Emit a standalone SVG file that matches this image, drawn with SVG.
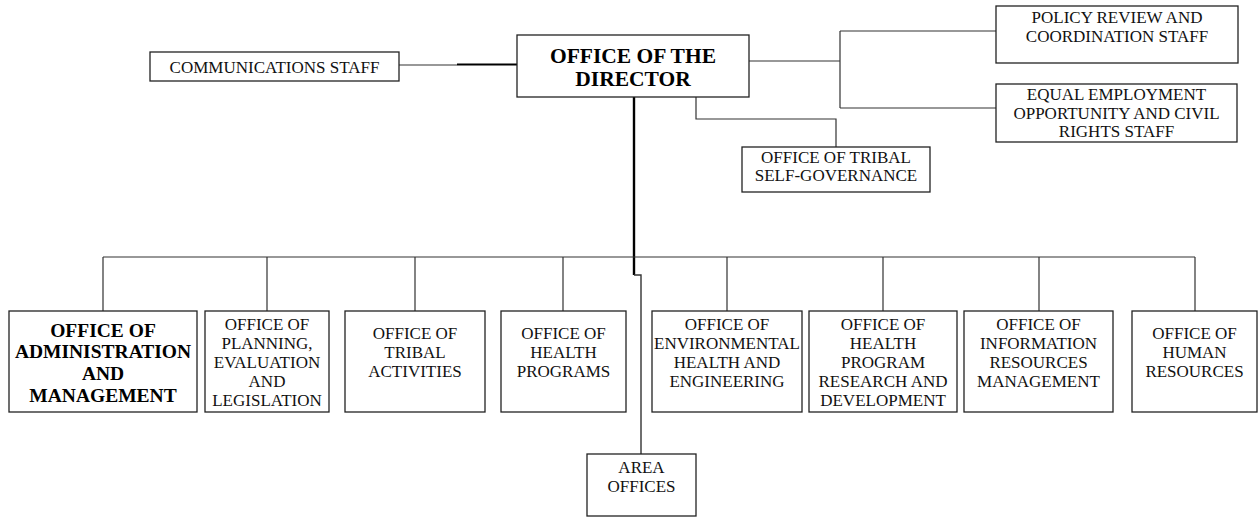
<svg xmlns="http://www.w3.org/2000/svg" width="1259" height="517" viewBox="0 0 1259 517">
<style>
.box{fill:#fff;stroke:#222;stroke-width:1.3}
.t{font-family:"Liberation Serif","Times New Roman",serif;font-size:17px;fill:#111;text-anchor:middle}
.b{font-family:"Liberation Serif","Times New Roman",serif;font-size:19.5px;font-weight:bold;fill:#000;text-anchor:middle}
.bd{font-size:21.5px}
.ln{fill:none;stroke:#333;stroke-width:1.2}
.thick{fill:none;stroke:#000;stroke-width:2.4}
</style>
<rect width="1259" height="517" fill="#fff"/>
<g id="connectors">
<path class="ln" d="M399 65 H457"/>
<path class="thick" d="M457 64.5 H517" style="stroke-width:1.8"/>
<path class="ln" d="M749 61 H840 M840 31 V108 M840 31 H996 M840 108 H996"/>
<path class="ln" d="M696 97 V119 H836 V147"/>
<path class="thick" d="M634 97 V275"/>
<path class="ln" d="M634 275 H641 V454" style="stroke-width:1.4"/>
<path class="ln" d="M103 257 H1195 M103 257 V311 M267 257 V311 M415 257 V311 M563 257 V311 M727 257 V311 M883 257 V311 M1039 257 V311 M1195 257 V311"/>
</g>
<g id="communications">
<rect class="box" x="150" y="52" width="249" height="29"/>
<text class="t" x="274.5" y="73">COMMUNICATIONS STAFF</text>
</g>
<g id="director">
<rect class="box" x="517" y="35" width="232" height="62"/>
<text class="b bd" x="633" y="63">OFFICE OF THE</text>
<text class="b bd" x="633" y="86">DIRECTOR</text>
</g>
<g id="policy">
<rect class="box" x="996" y="6" width="242" height="57"/>
<text class="t" x="1117" y="23">POLICY REVIEW AND</text>
<text class="t" x="1117" y="42">COORDINATION STAFF</text>
</g>
<g id="eeo">
<rect class="box" x="996" y="84" width="241" height="58"/>
<text class="t" x="1116.5" y="100">EQUAL EMPLOYMENT</text>
<text class="t" x="1116.5" y="119">OPPORTUNITY AND CIVIL</text>
<text class="t" x="1116.5" y="137">RIGHTS STAFF</text>
</g>
<g id="tribal-self-governance">
<rect class="box" x="742" y="147" width="188" height="45"/>
<text class="t" x="836" y="163">OFFICE OF TRIBAL</text>
<text class="t" x="836" y="181">SELF-GOVERNANCE</text>
</g>
<g id="administration">
<rect class="box" x="9" y="311" width="188" height="101"/>
<text class="b" x="103" y="337">OFFICE OF</text>
<text class="b" x="103" y="358">ADMINISTRATION</text>
<text class="b" x="103" y="380">AND</text>
<text class="b" x="103" y="402">MANAGEMENT</text>
</g>
<g id="planning">
<rect class="box" x="205" y="311" width="124" height="101"/>
<text class="t" x="267" y="330">OFFICE OF</text>
<text class="t" x="267" y="349">PLANNING,</text>
<text class="t" x="267" y="368">EVALUATION</text>
<text class="t" x="267" y="387">AND</text>
<text class="t" x="267" y="406">LEGISLATION</text>
</g>
<g id="tribal-activities">
<rect class="box" x="345" y="311" width="140" height="101"/>
<text class="t" x="415" y="339">OFFICE OF</text>
<text class="t" x="415" y="358">TRIBAL</text>
<text class="t" x="415" y="377">ACTIVITIES</text>
</g>
<g id="health-programs">
<rect class="box" x="501" y="311" width="125" height="101"/>
<text class="t" x="563.5" y="339">OFFICE OF</text>
<text class="t" x="563.5" y="358">HEALTH</text>
<text class="t" x="563.5" y="377">PROGRAMS</text>
</g>
<g id="environmental">
<rect class="box" x="652" y="311" width="150" height="101"/>
<text class="t" x="727" y="330">OFFICE OF</text>
<text class="t" x="727" y="349">ENVIRONMENTAL</text>
<text class="t" x="727" y="368">HEALTH AND</text>
<text class="t" x="727" y="387">ENGINEERING</text>
</g>
<g id="research">
<rect class="box" x="809" y="311" width="148" height="101"/>
<text class="t" x="883" y="330">OFFICE OF</text>
<text class="t" x="883" y="349">HEALTH</text>
<text class="t" x="883" y="368">PROGRAM</text>
<text class="t" x="883" y="387">RESEARCH AND</text>
<text class="t" x="883" y="406">DEVELOPMENT</text>
</g>
<g id="information">
<rect class="box" x="964" y="311" width="149" height="101"/>
<text class="t" x="1038.5" y="330">OFFICE OF</text>
<text class="t" x="1038.5" y="349">INFORMATION</text>
<text class="t" x="1038.5" y="368">RESOURCES</text>
<text class="t" x="1038.5" y="387">MANAGEMENT</text>
</g>
<g id="human-resources">
<rect class="box" x="1132" y="311" width="125" height="101"/>
<text class="t" x="1194.5" y="339">OFFICE OF</text>
<text class="t" x="1194.5" y="358">HUMAN</text>
<text class="t" x="1194.5" y="377">RESOURCES</text>
</g>
<g id="area-offices">
<rect class="box" x="587" y="454" width="109" height="62"/>
<text class="t" x="641.5" y="473">AREA</text>
<text class="t" x="641.5" y="492">OFFICES</text>
</g>
</svg>
